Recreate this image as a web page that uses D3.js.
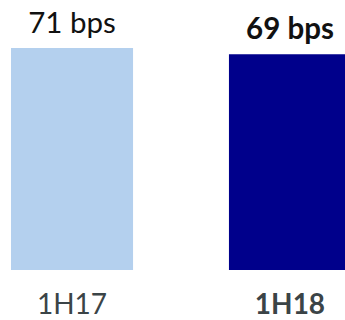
<!DOCTYPE html>
<html>
<head>
<meta charset="utf-8">
<script src="https://cdn.jsdelivr.net/npm/d3@7"></script>
<style>
  body { margin: 0; background: #fff; }
  svg { display: block; }
</style>
</head>
<body>
<div id="chart"></div>
<script>
const categories = ['1H17', '1H18'];
const values = [71, 69];
const valueLabels = ['71 bps', '69 bps'];
const highlight = [false, true];

const width = 345, height = 320;

const svg = d3.select('#chart')
    .append('svg')
    .attr('width', width)
    .attr('height', height)
    .style('font-family', 'Lato, sans-serif');

const x = d3.scaleBand()
    .domain(categories)
    .range([11, 351])
    .paddingInner(0.44)
    .paddingOuter(0);

const y = d3.scaleLinear()
    .domain([0, 71])
    .range([270, 48]);

svg.selectAll('rect.bar')
    .data(categories)
    .join('rect')
    .classed('bar', true)
    .attr('x', d => x(d))
    .attr('width', x.bandwidth())
    .attr('y', (d, i) => y(values[i]))
    .attr('height', (d, i) => y(0) - y(values[i]))
    .attr('fill', (d, i) => highlight[i] ? '#00008b' : '#b4d0ee');

// value labels above bars
svg.selectAll('text.value')
    .data(categories)
    .join('text')
    .classed('value', true)
    .attr('x', d => x(d) + x.bandwidth() / 2)
    .attr('y', (d, i) => y(values[i]) - 15.5)
    .attr('text-anchor', 'middle')
    .attr('font-size', 29.5)
    .attr('font-weight', (d, i) => highlight[i] ? 'bold' : 'normal')
    .attr('fill', '#111')
    .text((d, i) => valueLabels[i]);

// category labels
svg.selectAll('text.cat')
    .data(categories)
    .join('text')
    .classed('cat', true)
    .attr('x', d => x(d) + x.bandwidth() / 2)
    .attr('y', 314)
    .attr('text-anchor', 'middle')
    .attr('font-size', 28)
    .attr('font-weight', (d, i) => highlight[i] ? 'bold' : 'normal')
    .attr('fill', '#3b4447')
    .text(d => d);
</script>
</body>
</html>
